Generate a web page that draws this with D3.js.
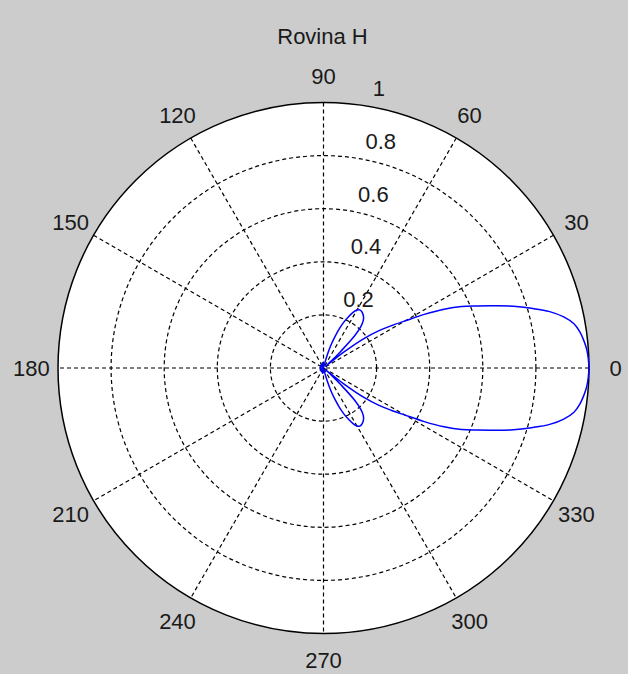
<!DOCTYPE html>
<html>
<head>
<meta charset="utf-8">
<style>
  body { margin: 0; background: #cccccc; }
  svg { display: block; }
  text { font-family: "Liberation Sans", Arial, sans-serif; font-size: 22px; fill: #1a1a1a; }
</style>
</head>
<body></body>
<script src="https://d3js.org/d3.v7.min.js"></script>
<script>
// pattern: angle in degrees, normalised gain
var patternAngles = [0, 2, 4, 6, 8, 10, 12, 14, 16, 18, 20, 22, 24, 26, 28, 30, 32, 34, 36, 38, 40,
    42, 44, 46, 48, 50, 52, 54, 56, 58, 60, 62, 64, 66, 68, 70, 72, 74, 76,
    80, 90, 100, 110, 120, 135, 150, 165, 180, 195, 210, 225, 240, 250, 260, 270, 280,
    284, 286, 288, 290, 292, 294, 296, 298, 300, 302, 304, 306, 308, 310, 312, 314, 316, 318,
    320, 322, 324, 326, 328, 330, 332, 334, 336, 338, 340, 342, 344, 346, 348, 350, 352, 354, 356, 358, 360];
var patternGain = [1.000, 0.998, 0.994, 0.986, 0.975, 0.958, 0.925, 0.878, 0.815, 0.752, 0.685, 0.624, 0.570, 0.505, 0.430, 0.355, 0.300, 0.250, 0.190, 0.100, 0.010,
    0.040, 0.090, 0.170, 0.210, 0.233, 0.245, 0.252, 0.257, 0.258, 0.252, 0.237, 0.215, 0.190, 0.160, 0.125, 0.090, 0.050, 0.012,
    0.000, 0.015, 0.020, 0.012, 0.000, 0.015, 0.010, 0.012, 0.010, 0.012, 0.010, 0.015, 0.000, 0.012, 0.020, 0.015, 0.000,
    0.012, 0.050, 0.090, 0.125, 0.160, 0.190, 0.215, 0.237, 0.252, 0.258, 0.257, 0.252, 0.245, 0.233, 0.210, 0.170, 0.090, 0.040,
    0.010, 0.100, 0.190, 0.250, 0.300, 0.355, 0.430, 0.505, 0.570, 0.624, 0.685, 0.752, 0.815, 0.878, 0.925, 0.958, 0.975, 0.986, 0.994, 0.998, 1.000];

var ringValues = [0.2, 0.4, 0.6, 0.8, 1];
var ringLabels = ['0.2', '0.4', '0.6', '0.8', '1'];
var spokeAngles = [0, 30, 60, 90, 120, 150];
var angleLabels = [0, 30, 60, 90, 120, 150, 180, 210, 240, 270, 300, 330];
var title = 'Rovina H';

var width = 628, height = 674;
var cx = 323.5, cy = 368, R = 265.5;

var r = d3.scaleLinear().domain([0, 1]).range([0, R]);
var toRad = function(deg) { return deg * Math.PI / 180; };

var svg = d3.select('body').append('svg')
    .attr('width', width)
    .attr('height', height);

svg.append('text')
    .attr('x', cx - 1)
    .attr('y', 44)
    .attr('text-anchor', 'middle')
    .text(title);

var g = svg.append('g').attr('transform', 'translate(' + cx + ',' + cy + ')');

// white plot disc
g.append('circle').attr('r', r(1)).attr('fill', '#fff');

// dashed rings (outer one solid)
g.selectAll('.ring')
    .data(ringValues.slice(0, -1))
    .enter().append('circle')
    .attr('class', 'ring')
    .attr('r', function(d) { return r(d); })
    .attr('fill', 'none')
    .attr('stroke', '#000')
    .attr('stroke-width', 1.2)
    .attr('stroke-dasharray', '4,3');

// spokes through the centre
g.selectAll('.spoke')
    .data(spokeAngles)
    .enter().append('line')
    .attr('class', 'spoke')
    .attr('x1', function(d) { return r(1) * Math.cos(toRad(d)); })
    .attr('y1', function(d) { return -r(1) * Math.sin(toRad(d)); })
    .attr('x2', function(d) { return -r(1) * Math.cos(toRad(d)); })
    .attr('y2', function(d) { return r(1) * Math.sin(toRad(d)); })
    .attr('stroke', '#000')
    .attr('stroke-width', 1.2)
    .attr('stroke-dasharray', '4,3');

g.append('circle')
    .attr('r', r(1))
    .attr('fill', 'none')
    .attr('stroke', '#000')
    .attr('stroke-width', 1.5);

// ring labels along 82 degrees
var c82 = Math.cos(toRad(82)), s82 = Math.sin(toRad(82));
g.selectAll('.rlabel')
    .data(ringValues)
    .enter().append('text')
    .attr('class', 'rlabel')
    .attr('x', function(d) { return r(d + 0.01) * c82 + 12; })
    .attr('y', function(d) { return -r(d + 0.01) * s82 - 6; })
    .text(function(d, i) { return ringLabels[i]; });

// angle labels
g.selectAll('.alabel')
    .data(angleLabels)
    .enter().append('text')
    .attr('class', 'alabel')
    .attr('text-anchor', 'middle')
    .attr('x', function(d) { return r(1.1) * Math.cos(toRad(d)); })
    .attr('y', function(d) { return -r(1.1) * Math.sin(toRad(d)) + 8; })
    .text(function(d) { return d; });

// pattern
var pts = patternAngles.map(function(a, i) { return [a, patternGain[i]]; });
var line = d3.lineRadial()
    .angle(function(d) { return toRad(90 - d[0]); })
    .radius(function(d) { return r(d[1]); })
    .curve(d3.curveCatmullRom.alpha(0.5));

g.append('path')
    .datum(pts)
    .attr('d', line)
    .attr('fill', 'none')
    .attr('stroke', '#0000ff')
    .attr('stroke-width', 1.5);
</script>
</html>
